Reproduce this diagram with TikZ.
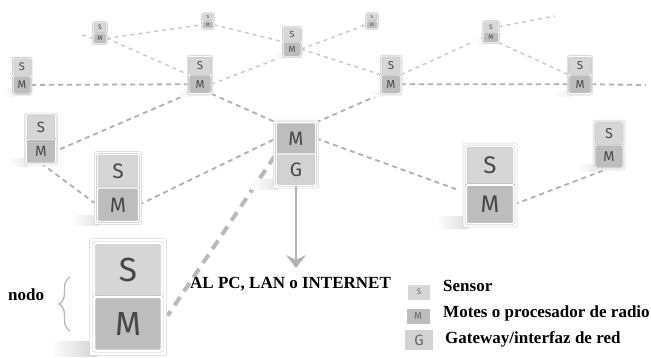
\documentclass[tikz,border=0pt]{standalone}
\usepackage{fontspec}
\setmainfont{Liberation Serif}
\newfontfamily\cellfont{Fira Sans}
\usetikzlibrary{arrows.meta,decorations.pathreplacing,calc,backgrounds}

\definecolor{cS}{HTML}{D6D6D6}
\definecolor{cM}{HTML}{BDBDBD}
\definecolor{cG}{HTML}{D2D2D2}
\definecolor{linkgray}{HTML}{B0B0B0}
\definecolor{farlink}{HTML}{C8C8C8}

\tikzset{
  cell/.style={draw=gray!55, double=white, double distance=#1, line width=0.45pt,
    rounded corners=1.5pt, inner sep=0pt, text=black!72, font=\cellfont},
  cellS/.style={fill=cS},
  cellM/.style={fill=cM},
  cellG/.style={fill=cG},
  frame/.style={draw=gray!35, fill=white, line width=0.5pt, rounded corners=2pt},
  link/.style={draw=linkgray, line width=1.8pt, dash pattern=on 5pt off 4pt},
  farlinks/.style={draw=farlink, line width=1.4pt, dash pattern=on 4pt off 4pt},
  trunk/.style={draw=gray!55, line width=4pt, dash pattern=on 10pt off 7pt},
  uplink/.style={draw=gray!60, line width=1.3pt,
    -{Stealth[width=20pt,length=13pt,inset=5pt]}},
  lbl/.style={inner sep=0pt, text=black, font=\fontsize{17}{17}\selectfont\bfseries},
  legbox/.style={inner sep=0pt, text=black!60, font=\cellfont},
}

% a sensor/mote pair: name, x, y, width, height, upper letter, lower letter
\newcommand\smpair[7]{%
  \pgfmathsetmacro\pairm{max(1,0.06*#4)}%
  \pgfmathsetmacro\pcw{#4-2*\pairm}%
  \pgfmathsetmacro\pch{(#5-2*\pairm)/2}%
  \pgfmathsetmacro\pfs{0.62*\pch}%
  \pgfmathsetmacro\pdd{max(0.5,0.03*#4)}%
  \pgfmathsetmacro\psh{min(35,0.5*#4)}%
  \shade[left color=white, right color=gray!\psh]
    (#2-1.0*#4, #3+0.38*#5) rectangle (#2-0.4*#4, #3+0.5*#5+1);
  \draw[frame] (#2-#4/2,#3-#5/2) rectangle (#2+#4/2,#3+#5/2);
  \node[cell=\pdd pt, cell#6, minimum width=\pcw pt, minimum height=\pch pt]
    (#1-t) at (#2,#3-\pch/2) {\fontsize{\pfs}{\pfs}\selectfont #6};
  \node[cell=\pdd pt, cell#7, minimum width=\pcw pt, minimum height=\pch pt]
    (#1-b) at (#2,#3+\pch/2) {\fontsize{\pfs}{\pfs}\selectfont #7};
}

\begin{document}
\begin{tikzpicture}[x=1pt, y=-1pt]
\useasboundingbox (0,0) rectangle (651,357);

% far row
\smpair{A}{100}{33}{15}{23}{S}{M}
\smpair{B}{208}{21}{13}{17}{S}{M}
\smpair{C}{292}{42}{20}{31}{S}{M}
\smpair{D}{372}{21}{13}{17}{S}{M}
\smpair{E}{491}{32}{17}{23}{S}{M}
% middle row
\smpair{F}{22}{76}{20}{38}{S}{M}
\smpair{G}{200}{75}{25}{40}{S}{M}
\smpair{H}{391}{75}{22}{40}{S}{M}
\smpair{I}{580}{75}{25}{40}{S}{M}
% near row
\smpair{J}{41}{139}{33}{52}{S}{M}
\smpair{K}{296}{154}{45}{68}{M}{G}
\smpair{L}{118}{188}{47}{73}{S}{M}
\smpair{M}{490}{185}{54}{84}{S}{M}
\smpair{N}{609}{145}{32}{50}{S}{M}
\smpair{O}{128}{297}{77}{117}{S}{M}

% loose ends of links leaving the picture
\coordinate (a0) at (82,35);
\coordinate (e0) at (555,16);
\coordinate (i0) at (646,85);
\coordinate (pc) at (296,268);

% radio links, behind the motes
\begin{scope}[on background layer]
\fill[white] (0,0) rectangle (651,357);
\draw[farlinks] (a0) -- (A-b.west);
\draw[farlinks] (A-b.east) -- (B-b.west);
\draw[farlinks] (A-b.east) -- (G-b.north west);
\draw[farlinks] (B-b.east) -- (C-b.north west);
\draw[farlinks] (C-b.east) -- (D-b.west);
\draw[farlinks] (C-b.east) -- (H-b.north west);
\draw[farlinks] (G-b.east) -- (C-b.south west);
\draw[farlinks] (H-b.north east) -- (E-b.west);
\draw[farlinks] (E-b.south east) -- (I-b.north west);
\draw[farlinks] (E-t.east) -- (e0);
\draw[link] (F-b.east) -- (G-b.west);
\draw[link] (H-b.east) -- (I-b.west);
\draw[link] (I-b.east) -- (i0);
\draw[link] (G-b.south west) -- (J-b.east);
\draw[link] (G-b.south east) -- (K-t.north west);
\draw[link] (K-t.north east) -- (H-b.south west);
\draw[link] (J-b.south) -- (L-b.west);
\draw[link] (L-b.east) -- (K-t.west);
\draw[link, shorten >=10pt] (K-t.east) -- ([yshift=-8pt]M-b.north west);
\draw[link] (M-b.east) -- (N-b.south);
\draw[trunk, shorten <=2pt, shorten >=10pt] (K-t.south west) -- (O-b.east);
\end{scope}

% uplink from the gateway
\draw[uplink] (K-b.south) -- (pc);
\node[lbl, anchor=base west] (dest) at (190,288) {AL PC, LAN o INTERNET};

% node label with brace
\node[lbl, anchor=base west] (nodo) at (8,300) {nodo};
\draw[gray!55, line width=1.3pt, decorate, decoration={brace, amplitude=11pt}]
  (70,331) -- (70,277);

% legend
\node[legbox, fill=cS, minimum width=22pt, minimum height=15pt] (kS) at (419,292)
  {\fontsize{8}{8}\selectfont S};
\node[legbox, fill=cM, minimum width=23pt, minimum height=15pt] (kM) at (418,316)
  {\fontsize{10}{10}\selectfont M};
\node[legbox, fill=cG, minimum width=28pt, minimum height=20pt] (kG) at (419,340)
  {\fontsize{15}{15}\selectfont G};
\node[lbl, anchor=base west] (tS) at (443,291) {Sensor};
\node[lbl, anchor=base west] (tM) at (443,317) {Motes o procesador de radio};
\node[lbl, anchor=base west] (tG) at (445,343) {Gateway/interfaz de red};
\end{tikzpicture}
\end{document}
